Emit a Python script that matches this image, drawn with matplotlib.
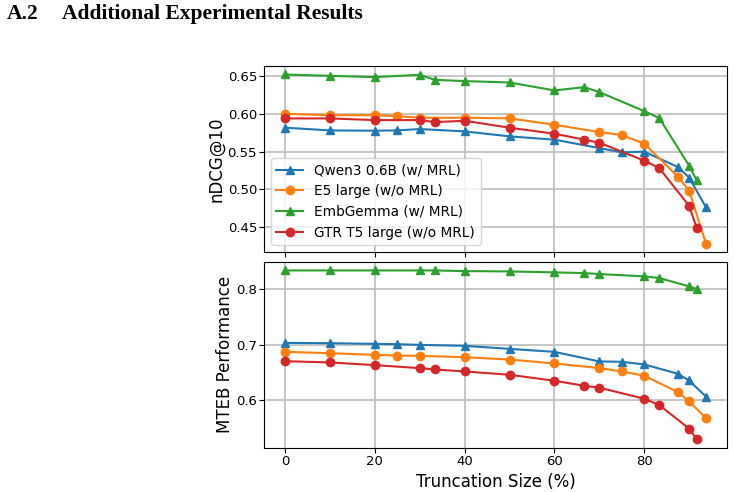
import matplotlib
matplotlib.use("Agg")
import matplotlib.pyplot as plt
from matplotlib.ticker import MultipleLocator

# truncation sizes (%)
x_1024 = [0, 10, 20, 25, 30, 40, 50, 60, 70, 75, 80, 87.5, 90, 93.75]
x_768 = [0, 10, 20, 30, 33.33, 40, 50, 60, 66.67, 70, 80, 83.33, 90, 91.67]

labels = ["Qwen3 0.6B (w/ MRL)", "E5 large (w/o MRL)",
          "EmbGemma (w/ MRL)", "GTR T5 large (w/o MRL)"]

# nDCG@10
qwen_ndcg = [0.5816, 0.578, 0.5776, 0.578, 0.5798, 0.5767, 0.5701, 0.5657,
             0.5546, 0.5489, 0.5498, 0.5294, 0.5153, 0.476]
e5_ndcg = [0.600, 0.5982, 0.5982, 0.597, 0.5948, 0.5948, 0.594, 0.5855,
           0.5758, 0.5719, 0.5604, 0.5167, 0.4981, 0.4279]
gemma_ndcg = [0.6522, 0.6504, 0.6487, 0.6518, 0.6451, 0.6434, 0.6416, 0.631,
              0.6354, 0.6288, 0.6036, 0.5944, 0.5312, 0.5118]
gtr_ndcg = [0.5939, 0.5939, 0.5917, 0.5917, 0.589, 0.5908, 0.5816, 0.5736,
            0.5657, 0.5617, 0.5379, 0.5281, 0.4779, 0.4488]

# MTEB performance
qwen_mteb = [0.703, 0.7024, 0.7012, 0.7006, 0.6994, 0.6976, 0.6922, 0.6868,
             0.6695, 0.6689, 0.6641, 0.6473, 0.6353, 0.606]
e5_mteb = [0.6868, 0.6844, 0.6814, 0.6802, 0.6796, 0.6772, 0.673, 0.6659,
           0.6575, 0.6515, 0.6437, 0.6144, 0.5976, 0.567]
gemma_mteb = [0.8335, 0.8335, 0.8335, 0.8335, 0.8335, 0.8323, 0.8317, 0.830,
              0.8287, 0.827, 0.8228, 0.8198, 0.8048, 0.80]
gtr_mteb = [0.67, 0.6677, 0.6629, 0.6575, 0.6551, 0.6515, 0.6455, 0.6347,
            0.6257, 0.6222, 0.6024, 0.591, 0.5485, 0.5293]

fig = plt.figure(figsize=(7.34, 4.92), dpi=100)
ax1 = fig.add_axes([0.3597, 0.4878, 0.6308, 0.378])
ax2 = fig.add_axes([0.3597, 0.090, 0.6308, 0.3775], sharex=ax1)

series = [
    (x_1024, qwen_ndcg, qwen_mteb, "^", "C0"),
    (x_1024, e5_ndcg, e5_mteb, "o", "C1"),
    (x_768, gemma_ndcg, gemma_mteb, "^", "C2"),
    (x_768, gtr_ndcg, gtr_mteb, "o", "C3"),
]
for (xs, nd, mt, mk, col), lab in zip(series, labels):
    ax1.plot(xs, nd, marker=mk, color=col, label=lab, markersize=6)
    ax2.plot(xs, mt, marker=mk, color=col, label=lab, markersize=6)

ax1.set_ylabel("nDCG@10", fontsize=12, labelpad=1.5)
ax2.set_ylabel("MTEB Performance", fontsize=12, labelpad=1.5)
ax2.set_xlabel("Truncation Size (%)", fontsize=12)
ax1.legend(loc="lower left", fontsize=9.8)
ax1.yaxis.set_major_locator(MultipleLocator(0.05))
ax2.yaxis.set_major_locator(MultipleLocator(0.1))
ax1.tick_params(labelbottom=False, labelsize=9.5, pad=1.5)
ax2.tick_params(labelsize=9.5, pad=1.5)
for ax in (ax1, ax2):
    ax.grid(True, linewidth=1.3, color="#c0c0c0")
    ax.set_axisbelow(True)

fig.text(0.0095, 1 - 19 / 492, "A.2", fontsize=15.5, fontweight="bold",
         family="Liberation Serif", va="baseline")
fig.text(0.0845, 1 - 19 / 492, "Additional Experimental Results",
         fontsize=15.5, fontweight="bold", family="Liberation Serif",
         va="baseline")

fig.savefig("out.png", dpi=100)
